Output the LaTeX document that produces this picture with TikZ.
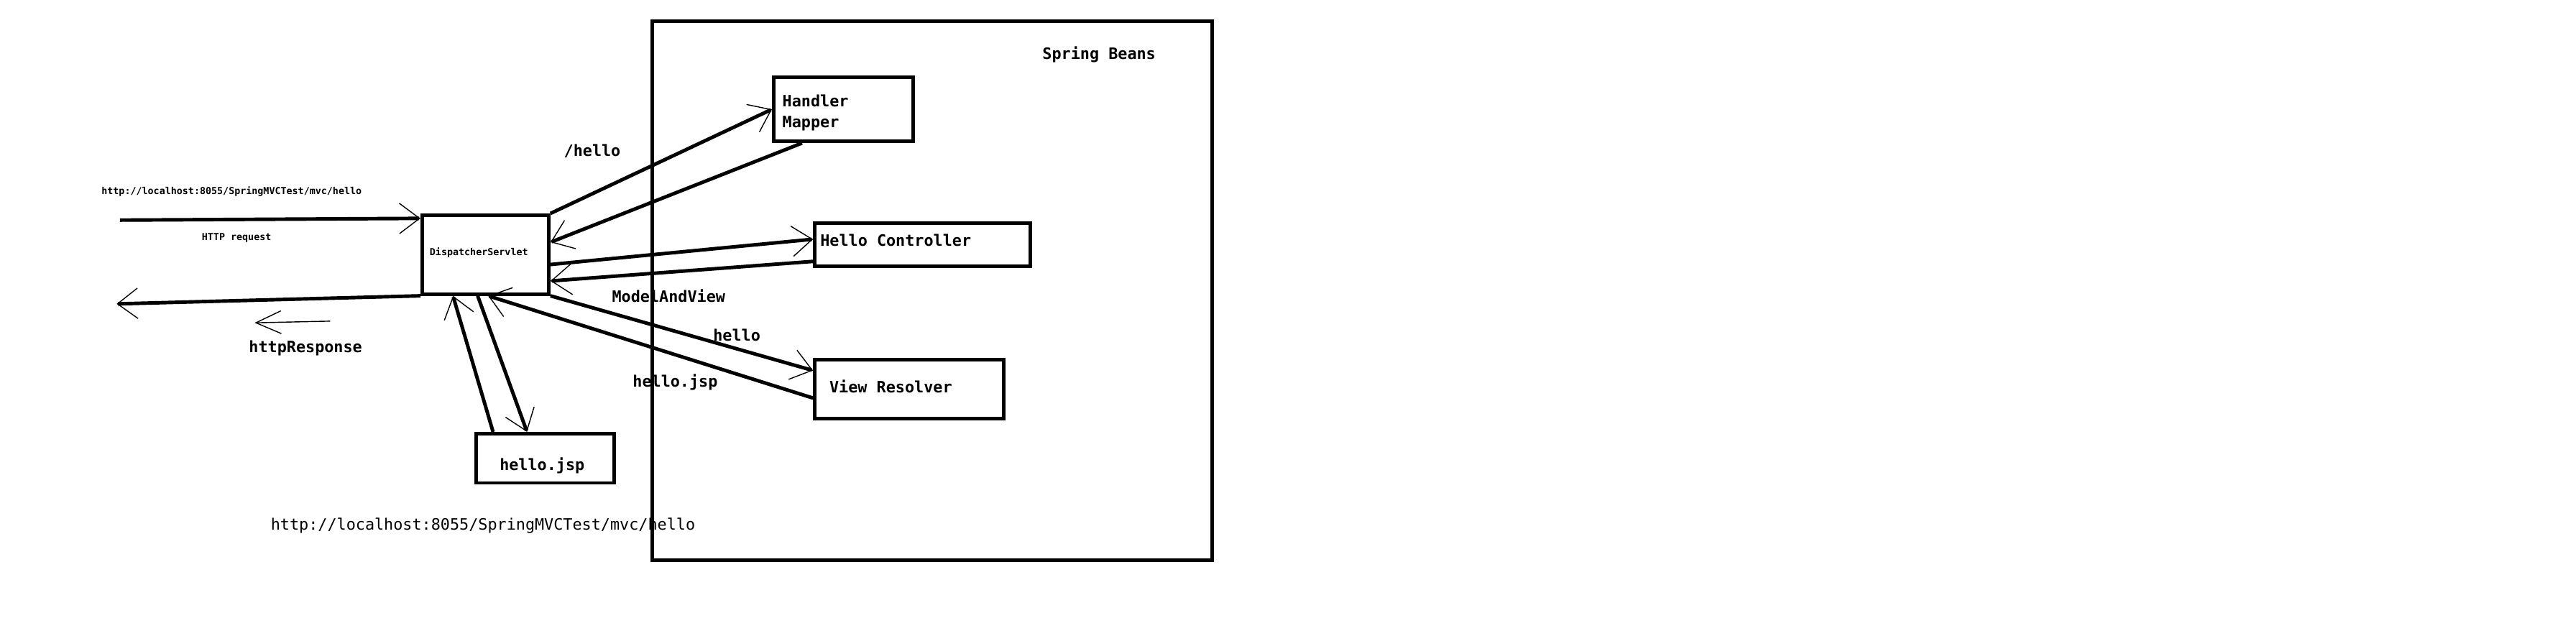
\documentclass[tikz,border=0pt]{standalone}
\usepackage{fontspec}
\setmonofont{DejaVu Sans Mono}
\usetikzlibrary{arrows.meta,calc,fit}

\tikzset{
    box/.style={draw,line width=1.4pt,inner sep=0pt},
    flow/.style={line width=1.4pt,-{Straight Barb[line width=0.4pt,length=8pt,width=12pt]}},
    thinflow/.style={line width=0.4pt,-{Straight Barb[line width=0.4pt,length=10pt,width=9pt]}},
    txt/.style={font=\ttfamily\bfseries\fontsize{6.2}{8.2}\selectfont,inner sep=0pt},
    tinytxt/.style={font=\ttfamily\bfseries\fontsize{3.8}{4.6}\selectfont,inner sep=0pt},
    plaintxt/.style={font=\ttfamily\fontsize{6.2}{8.2}\selectfont,inner sep=0pt}
}

\begin{document}
\begin{tikzpicture}[x=0.0228571cm,y=-0.0228571cm]
    \useasboundingbox (0,0) rectangle (1568,386.75);

    \node[box,fit={(397,13) (738,341)}] (beans) {};
    \node[box,fit={(257,131) (334,179)}] (ds) {};
    \node[box,fit={(471,47) (556,86)}] (hm) {};
    \node[box,fit={(496,136) (627,162)}] (hc) {};
    \node[box,fit={(496,219) (611,255)}] (vr) {};
    \node[box,fit={(290,264) (374,294)}] (jsp) {};

    \node[txt,anchor=base] (beanstxt) at (669,36) {Spring Beans};
    \node[tinytxt,anchor=base] (dstxt) at (291.5,155.4) {DispatcherServlet};
    \node[txt,anchor=north west,align=left] (hmtxt) at (476,57.5) {Handler\\Mapper};
    \node[txt,anchor=base west] (hctxt) at (499,150) {Hello Controller};
    \node[txt,anchor=base west] (vrtxt) at (504.6,239) {View Resolver};
    \node[txt,anchor=base] (jsptxt) at (330,286.5) {hello.jsp};

    \coordinate (reqstart) at (73,134);
    \coordinate (respend) at (71,185);
    \coordinate (backstart) at (201,195.5);
    \coordinate (backend) at (155,196.5);

    \draw[flow] (reqstart) -- ($(ds.north west)!0.06!(ds.south west)$);
    \draw[flow] (ds.south west) -- (respend);
    \draw[thinflow] (backstart) -- (backend);

    \draw[flow] (ds.north east) -- (hm.west);
    \draw[flow] ($(hm.south west)!0.21!(hm.south east)$) -- ($(ds.north east)!0.35!(ds.south east)$);
    \draw[flow] ($(ds.north east)!0.62!(ds.south east)$) -- ($(hc.north west)!0.38!(hc.south west)$);
    \draw[flow] ($(hc.north west)!0.86!(hc.south west)$) -- ($(ds.north east)!0.82!(ds.south east)$);
    \draw[flow] (ds.south east) -- ($(vr.north west)!0.2!(vr.south west)$);
    \draw[flow] ($(vr.north west)!0.64!(vr.south west)$) -- ($(ds.south west)!0.52!(ds.south east)$);
    \draw[flow] ($(jsp.north west)!0.13!(jsp.north east)$) -- ($(ds.south west)!0.25!(ds.south east)$);
    \draw[flow] ($(ds.south west)!0.44!(ds.south east)$) -- ($(jsp.north west)!0.37!(jsp.north east)$);

    \node[tinytxt,anchor=base] (urltop) at (141,118.5) {http://localhost:8055/SpringMVCTest/mvc/hello};
    \node[tinytxt,anchor=base] (reqtxt) at (144,146.2) {HTTP request};
    \node[txt,anchor=base] (resptxt) at (186,214.5) {httpResponse};
    \node[txt,anchor=base] (pathtxt) at (360.5,95) {/hello};
    \node[txt,anchor=base] (mavtxt) at (407,183.8) {ModelAndView};
    \node[txt,anchor=base] (viewtxt) at (448.5,207.8) {hello};
    \node[txt,anchor=base] (jspname) at (411,235.5) {hello.jsp};
    \node[plaintxt,anchor=base] (urlbottom) at (294,322.5) {http://localhost:8055/SpringMVCTest/mvc/hello};
\end{tikzpicture}
\end{document}
